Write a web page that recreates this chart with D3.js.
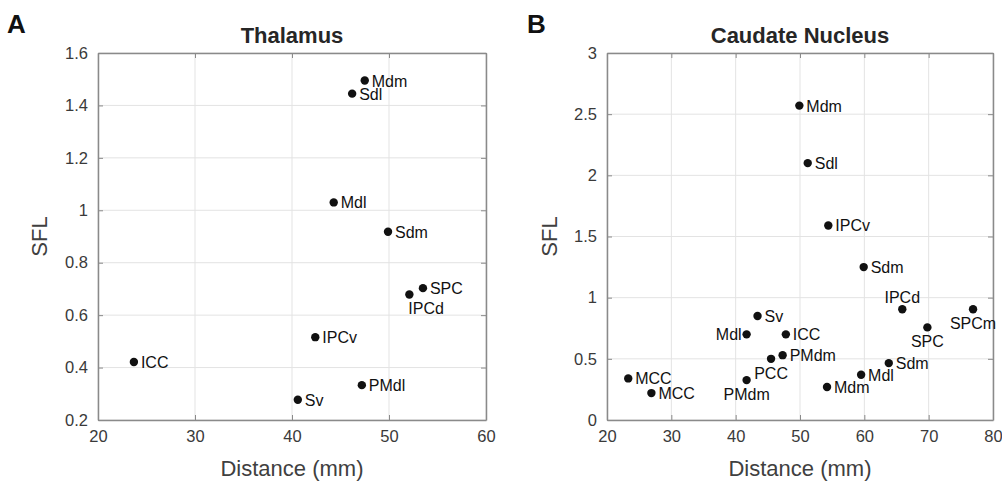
<!DOCTYPE html>
<html>
  <head>
    <meta charset="utf-8">
    <title>SFL vs distance</title>
    <style>
      body { margin: 0; background: #fff; }
      text { font-family: "Liberation Sans", Arial, sans-serif; }
    </style>
  </head>
  <body>
    <div id="container"></div>
    <script src="https://cdn.jsdelivr.net/npm/d3@7"></script>
    <script>
      // panel A - thalamus
      var thalNames = ["Mdm", "Sdl", "Mdl", "Sdm", "SPC", "IPCd", "IPCv", "ICC", "PMdl", "Sv"];
      var thalDist  = [47.5, 46.2, 44.3, 49.9, 53.5, 52.1, 42.4, 23.7, 47.2, 40.6];
      var thalSFL   = [1.495, 1.445, 1.03, 0.918, 0.703, 0.679, 0.516, 0.421, 0.333, 0.277];

      // panel B - caudate nucleus
      var caudNames = ["Mdm", "Sdl", "IPCv", "Sdm", "IPCd", "SPCm", "SPC", "Sv", "Mdl", "ICC",
                       "PCC", "PMdm", "PMdm", "MCC", "MCC", "Mdm", "Mdl", "Sdm"];
      var caudDist  = [49.9, 51.2, 54.4, 59.9, 65.9, 76.9, 69.8, 43.4, 41.7, 47.8,
                       45.5, 47.3, 41.7, 23.3, 26.9, 54.2, 59.5, 63.8];
      var caudSFL   = [2.57, 2.10, 1.59, 1.25, 0.905, 0.905, 0.757, 0.85, 0.70, 0.70,
                       0.50, 0.53, 0.326, 0.34, 0.22, 0.27, 0.37, 0.465];

      // where each label sits next to its dot: r right, l left, b below centred, bl below left-aligned, a above
      var thalLabelPos = ["r", "r", "r", "r", "r", "bl", "r", "r", "r", "r"];
      var caudLabelPos = ["r", "r", "r", "r", "a", "b", "b", "r", "l", "r",
                          "b", "r", "b", "r", "r", "r", "r", "r"];

      var thalXTicks = [20, 30, 40, 50, 60];
      var thalYTicks = [0.2, 0.4, 0.6, 0.8, 1, 1.2, 1.4, 1.6];
      var caudXTicks = [20, 30, 40, 50, 60, 70, 80];
      var caudYTicks = [0, 0.5, 1, 1.5, 2, 2.5, 3];

      var W = 1002, H = 484;
      var textCol = "#262626", tickCol = "#3a3a3a", boxCol = "#8a8a8a", gridCol = "#e3e3e3";

      var svg = d3.select("#container").append("svg")
        .attr("width", W)
        .attr("height", H);

      function panel(o) {
        var x = d3.scaleLinear().domain(o.xDomain).range([o.left, o.right]);
        var y = d3.scaleLinear().domain(o.yDomain).range([o.bottom, o.top]);
        var g = svg.append("g");

        // grid
        g.selectAll(".gx").data(o.xTicks).enter().append("line")
          .attr("x1", d => x(d)).attr("x2", d => x(d))
          .attr("y1", o.top).attr("y2", o.bottom)
          .attr("stroke", gridCol).attr("stroke-width", 1);
        g.selectAll(".gy").data(o.yTicks).enter().append("line")
          .attr("y1", d => y(d)).attr("y2", d => y(d))
          .attr("x1", o.left).attr("x2", o.right)
          .attr("stroke", gridCol).attr("stroke-width", 1);

        // axes (ticks point inward, box drawn on all sides)
        var fmt = d => d3.format("")(+d.toFixed(2));
        var axes = [
          g.append("g").attr("transform", "translate(0," + o.bottom + ")")
            .call(d3.axisBottom(x).tickValues(o.xTicks).tickSizeInner(-5).tickSizeOuter(0).tickPadding(10).tickFormat(fmt)),
          g.append("g").attr("transform", "translate(" + o.left + ",0)")
            .call(d3.axisLeft(y).tickValues(o.yTicks).tickSizeInner(-5).tickSizeOuter(0).tickPadding(10).tickFormat(fmt)),
          g.append("g").attr("transform", "translate(0," + o.top + ")")
            .call(d3.axisTop(x).tickValues(o.xTicks).tickSizeInner(-5).tickSizeOuter(0).tickFormat("")),
          g.append("g").attr("transform", "translate(" + o.right + ",0)")
            .call(d3.axisRight(y).tickValues(o.yTicks).tickSizeInner(-5).tickSizeOuter(0).tickFormat(""))
        ];
        axes.forEach(function(a) {
          a.select(".domain").attr("stroke", boxCol).attr("stroke-width", 1.5);
          a.selectAll(".tick line").attr("stroke", boxCol).attr("stroke-width", 1);
          a.selectAll(".tick text").attr("fill", tickCol)
            .style("font-size", "16.5px")
            .style("font-family", "'Liberation Sans', Arial, sans-serif");
        });

        // points
        var pts = o.names.map((n, i) => ({name: n, d: o.dist[i], s: o.sfl[i], pos: o.pos[i]}));
        g.selectAll("circle.pt").data(pts).enter().append("circle")
          .attr("class", "pt")
          .attr("cx", d => x(d.d)).attr("cy", d => y(d.s))
          .attr("r", 4.2)
          .attr("fill", "#111");

        g.selectAll("text.lab").data(pts).enter().append("text")
          .attr("class", "lab")
          .attr("x", function(d) {
            var px = x(d.d);
            if (d.pos == "r") return px + 7;
            if (d.pos == "l") return px - 5;
            if (d.pos == "bl") return px - 1;
            return px;
          })
          .attr("y", function(d) {
            var py = y(d.s);
            if (d.pos == "b" || d.pos == "bl") return py + 20;
            if (d.pos == "a") return py - 6;
            return py + 6;
          })
          .attr("text-anchor", function(d) {
            if (d.pos == "l") return "end";
            if (d.pos == "b" || d.pos == "a") return "middle";
            return "start";
          })
          .attr("fill", "#111")
          .style("font-size", "16px")
          .text(d => d.name);

        // titles
        var cx = (o.left + o.right) / 2;
        svg.append("text")
          .attr("x", cx).attr("y", 43)
          .attr("text-anchor", "middle")
          .attr("fill", textCol)
          .style("font-size", "22px").style("font-weight", "bold")
          .text(o.title);
        svg.append("text")
          .attr("x", o.letterX).attr("y", 33)
          .attr("fill", "#111")
          .style("font-size", "26px").style("font-weight", "bold")
          .text(o.letter);
        svg.append("text")
          .attr("x", cx).attr("y", 476)
          .attr("text-anchor", "middle")
          .attr("fill", "#404040")
          .style("font-size", "22px")
          .text("Distance (mm)");
        svg.append("text")
          .attr("transform", "translate(" + o.ylabX + "," + ((o.top + o.bottom) / 2) + ") rotate(-90)")
          .attr("text-anchor", "middle")
          .attr("fill", "#404040")
          .style("font-size", "22px")
          .text("SFL");
      }

      panel({
        names: thalNames, dist: thalDist, sfl: thalSFL, pos: thalLabelPos,
        xDomain: [20, 60], yDomain: [0.2, 1.6], xTicks: thalXTicks, yTicks: thalYTicks,
        left: 98, right: 486, top: 53, bottom: 420,
        title: "Thalamus", letter: "A", letterX: 7, ylabX: 47
      });
      panel({
        names: caudNames, dist: caudDist, sfl: caudSFL, pos: caudLabelPos,
        xDomain: [20, 80], yDomain: [0, 3], xTicks: caudXTicks, yTicks: caudYTicks,
        left: 607, right: 993, top: 53, bottom: 420,
        title: "Caudate Nucleus", letter: "B", letterX: 527, ylabX: 557
      });
    </script>
  </body>
</html>
